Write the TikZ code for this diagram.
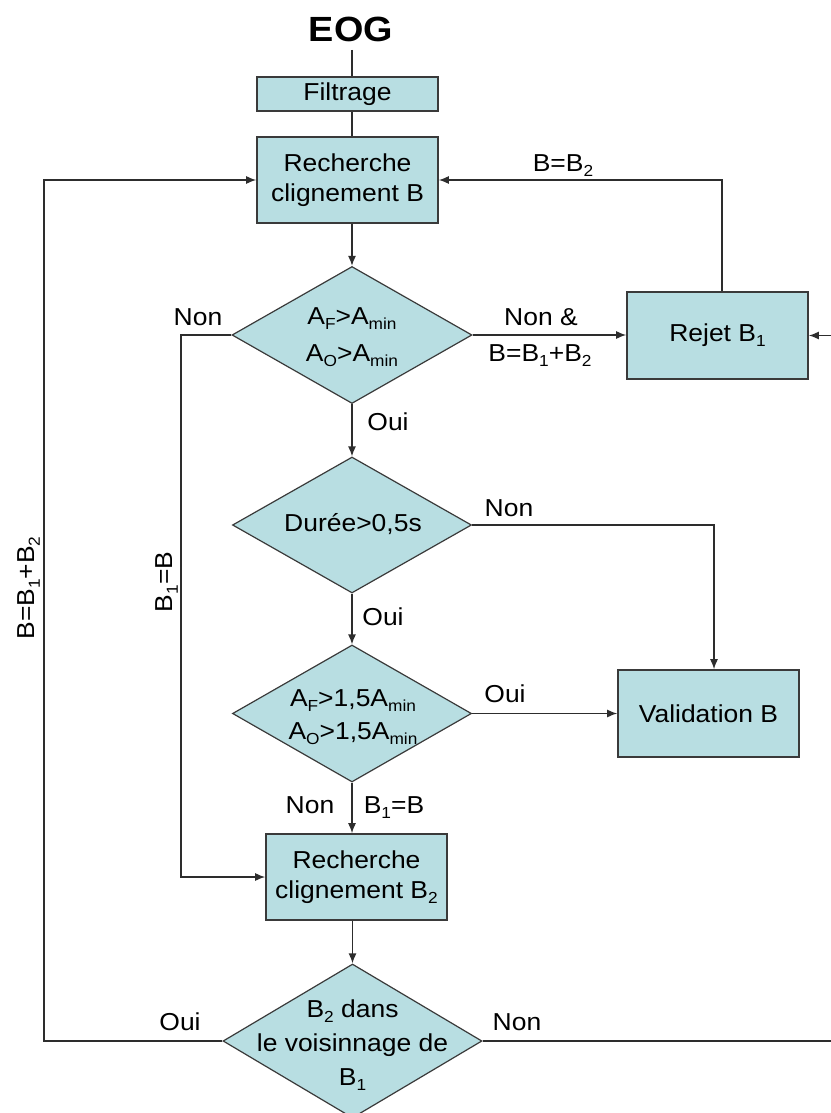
\documentclass[tikz,border=0pt]{standalone}
\usepackage{fontspec}
\setmainfont{Liberation Sans}[FakeStretch=1.08]
\usetikzlibrary{shapes.geometric,arrows.meta}
\definecolor{tealfill}{RGB}{184,222,226}
\definecolor{edgegray}{RGB}{58,58,58}
\definecolor{linegray}{RGB}{45,45,45}
\newcommand\sbs[1]{\raisebox{-5pt}{\fontsize{16}{16}\selectfont #1}}
\begin{document}
\begin{tikzpicture}[x=1pt,y=-1pt,
  every node/.style={font=\fontsize{24.5}{30}\selectfont, inner sep=0pt, text=black},
  box/.style={draw=edgegray, line width=1.6pt, fill=tealfill, align=center},
  dia/.style={diamond, draw=edgegray, line width=1.2pt, fill=tealfill},
  txt/.style={align=center},
  conn/.style={draw=linegray, line width=1.4pt},
  arr/.style={conn, -{Latex[length=10pt,width=8pt]}}]
\useasboundingbox (0,0) rectangle (830,1113);
\fill[white] (0,0) rectangle (830,1113);

% boxes
\node[font=\fontsize{35}{40}\selectfont\bfseries] (eog) at (351,29) {EOG};
\node[box, minimum width=181, minimum height=34] (filt) at (347.5,94) {Filtrage};
\node[box, minimum width=181, minimum height=86] (rech) at (347.5,180) {Recherche\\clignement B};
\node[box, minimum width=181, minimum height=87] (rej) at (717.5,335.5) {Rejet B\sbs{1}};
\node[box, minimum width=181, minimum height=87] (val) at (708.5,713.5) {Validation B};
\node[box, minimum width=181, minimum height=86] (rech2) at (356.5,877) {Recherche\\clignement B\sbs{2}};

% diamonds
\node[dia, minimum width=240, minimum height=137] (d1) at (352,335) {};
\node[txt, font=\fontsize{24.5}{37}\selectfont] (d1t) at (352,337) {A\sbs{F}>A\sbs{min}\\A\sbs{O}>A\sbs{min}};
\node[dia, minimum width=239, minimum height=136] (d2) at (352,525) {};
\node[txt] (d2t) at (353,524) {Durée>0,5s};
\node[dia, minimum width=239, minimum height=137] (d3) at (352,713.5) {};
\node[txt, font=\fontsize{24.5}{33}\selectfont] (d3t) at (353,717) {A\sbs{F}>1,5A\sbs{min}\\A\sbs{O}>1,5A\sbs{min}};
\node[dia, minimum width=259, minimum height=154] (d4) at (352.5,1041) {};
\node[txt, font=\fontsize{24.5}{34}\selectfont] (d4t) at (352.5,1045) {B\sbs{2} dans\\le voisinnage de\\B\sbs{1}};

% helper coordinates
\coordinate (kL1) at (181,0);
\coordinate (kL2) at (44,0);
\coordinate (kR1) at (722,0);
\coordinate (kR2) at (714,0);
\coordinate (edgeR) at (834,0);
\coordinate (eogb) at (352,50);

% main column
\draw[conn] (eogb) -- (filt.north -| eogb);
\draw[conn] (filt.south -| d1) -- (rech.north -| d1);
\draw[arr] (rech.south -| d1) -- (d1.north);
\draw[arr] (d1.south) -- (d2.north);
\draw[arr] (d2.south) -- (d3.north);
\draw[arr] (d3.south) -- (d3.south |- rech2.north);
\draw[arr] (rech2.south -| d4) -- (d4.north);

% branches
\draw[arr] (d1.east) -- (d1.east -| rej.west);
\draw[arr] (rej.north -| kR1) -- (rech.east -| kR1) -- (rech.east);
\draw[arr] (d1.west) -- (d1.west -| kL1) -- (rech2.west -| kL1) -- (rech2.west);
\draw[arr] (d2.east) -- (d2.east -| kR2) -- (val.north -| kR2);
\draw[arr] (d3.east) -- (d3.east -| val.west);
\draw[arr] (d4.west) -- (d4.west -| kL2) -- (rech.west -| kL2) -- (rech.west);
\draw[conn] (d4.east) -- (d4.east -| edgeR);
\draw[arr] (rej.east -| edgeR) -- (rej.east);

% labels
\node[txt] (l1) at (198,317) {Non};
\node[txt] (l2) at (541,317) {Non \&};
\node[txt] (l3) at (540,356) {B=B\sbs{1}+B\sbs{2}};
\node[txt] (l4) at (388,422) {Oui};
\node[txt] (l5) at (509,508) {Non};
\node[txt] (l6) at (383,617) {Oui};
\node[txt] (l7) at (505,694) {Oui};
\node[txt] (l8) at (310,805) {Non};
\node[txt] (l9) at (394,808) {B\sbs{1}=B};
\node[txt] (l10) at (180,1022) {Oui};
\node[txt] (l11) at (517,1022) {Non};
\node[txt] (l12) at (563,166) {B=B\sbs{2}};
\node[txt, rotate=90] (l13) at (29,588) {B=B\sbs{1}+B\sbs{2}};
\node[txt, rotate=90] (l14) at (167,582) {B\sbs{1}=B};
\end{tikzpicture}
\end{document}
